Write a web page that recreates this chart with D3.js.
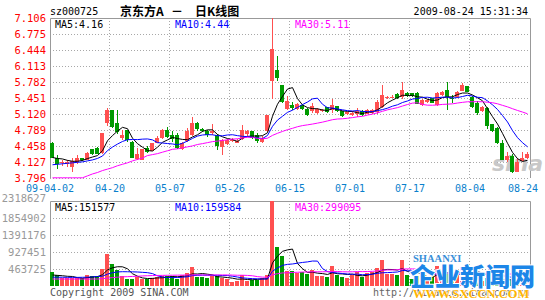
<!DOCTYPE html>
<html><head><meta charset="utf-8">
<script src="https://cdn.jsdelivr.net/npm/d3@7"></script>
<style>html,body{margin:0;padding:0;background:#fff;}svg{display:block;}</style>
</head><body><svg id="c" width="545" height="300"></svg>
<script>
// ---------- data ----------
const dates = [
"2009-04-02","2009-04-03","2009-04-06","2009-04-07","2009-04-08","2009-04-09","2009-04-10","2009-04-13","2009-04-14","2009-04-15","2009-04-16","2009-04-17",
"2009-04-20","2009-04-21","2009-04-22","2009-04-23","2009-04-24","2009-04-27","2009-04-28","2009-04-29","2009-04-30","2009-05-04","2009-05-05","2009-05-06",
"2009-05-07","2009-05-08","2009-05-11","2009-05-12","2009-05-13","2009-05-14","2009-05-15","2009-05-18","2009-05-19","2009-05-20","2009-05-21","2009-05-22",
"2009-05-26","2009-05-27","2009-06-01","2009-06-02","2009-06-03","2009-06-04","2009-06-05","2009-06-08","2009-06-09","2009-06-10","2009-06-11","2009-06-12",
"2009-06-15","2009-06-16","2009-06-17","2009-06-18","2009-06-19","2009-06-22","2009-06-23","2009-06-24","2009-06-25","2009-06-26","2009-06-29","2009-06-30",
"2009-07-01","2009-07-02","2009-07-03","2009-07-06","2009-07-07","2009-07-08","2009-07-09","2009-07-10","2009-07-13","2009-07-14","2009-07-15","2009-07-16",
"2009-07-17","2009-07-20","2009-07-21","2009-07-22","2009-07-23","2009-07-24","2009-07-27","2009-07-28","2009-07-29","2009-07-30","2009-07-31","2009-08-03",
"2009-08-04","2009-08-05","2009-08-06","2009-08-07","2009-08-10","2009-08-11","2009-08-12","2009-08-13","2009-08-14","2009-08-17","2009-08-18","2009-08-24"];

const open = [4.53,4.22,4.10,4.08,4.03,4.13,4.20,4.17,4.39,4.42,4.31,4.93,
5.20,4.93,4.62,4.78,4.55,4.19,4.17,4.42,4.36,4.53,4.62,4.79,
4.69,4.69,4.40,4.56,4.68,4.93,4.82,4.77,4.72,4.68,4.43,4.50,
4.56,4.53,4.60,4.70,4.76,4.69,4.55,4.76,5.80,6.02,5.71,5.23,
5.30,5.23,5.30,5.23,5.18,5.15,5.18,5.26,5.21,5.28,5.18,5.11,
5.09,5.11,5.18,5.13,5.14,5.16,5.27,5.47,5.46,5.53,5.47,5.56,
5.55,5.56,5.31,5.36,5.45,5.31,5.51,5.62,5.46,5.47,5.60,5.69,
5.48,5.34,5.18,5.25,4.91,4.84,4.51,4.17,4.25,3.93,4.15,4.22];
const high = [4.55,4.27,4.17,4.17,4.20,4.27,4.22,4.34,4.40,4.43,4.73,5.24,
5.21,5.20,4.79,4.79,4.56,4.42,4.40,4.46,4.53,4.67,4.82,4.86,
4.76,4.72,4.55,4.83,5.05,4.96,4.83,4.79,4.91,4.70,4.60,4.60,
4.62,4.60,4.89,4.78,4.77,4.72,4.66,5.10,7.106,6.33,5.72,5.49,
5.37,5.35,5.32,5.25,5.35,5.24,5.23,5.27,5.42,5.29,5.19,5.17,
5.18,5.24,5.20,5.22,5.23,5.41,5.71,5.50,5.51,5.56,5.79,5.57,
5.56,5.57,5.43,5.42,5.46,5.57,5.59,5.79,5.51,5.59,5.76,5.70,
5.49,5.38,5.29,5.27,4.92,4.85,4.58,4.34,4.30,4.20,4.33,4.34];
const low = [4.20,3.98,4.04,4.03,3.93,4.08,4.15,4.16,4.28,4.29,4.30,4.87,
4.84,4.71,4.58,4.55,4.21,4.17,4.16,4.32,4.35,4.51,4.60,4.62,
4.55,4.39,4.38,4.55,4.67,4.77,4.75,4.65,4.68,4.38,4.27,4.48,
4.54,4.52,4.58,4.66,4.61,4.51,4.53,4.75,5.42,5.80,5.34,5.21,
5.21,5.21,5.20,5.07,5.14,5.12,5.16,5.14,5.14,5.16,5.06,5.09,
5.07,5.06,5.08,5.12,5.12,5.13,5.24,5.44,5.45,5.42,5.44,5.48,
5.47,5.32,5.29,5.35,5.34,5.29,5.50,5.20,5.35,5.45,5.59,5.57,
5.25,5.10,5.16,4.82,4.75,4.50,4.16,4.13,3.90,3.91,4.14,4.18];
const close = [4.22,4.08,4.13,4.13,4.15,4.22,4.17,4.32,4.29,4.30,4.72,5.20,
4.86,4.75,4.69,4.58,4.22,4.29,4.39,4.34,4.53,4.62,4.79,4.64,
4.60,4.41,4.53,4.76,4.93,4.82,4.76,4.69,4.76,4.45,4.58,4.58,
4.58,4.57,4.79,4.76,4.63,4.56,4.62,5.09,6.47,5.87,5.37,5.38,
5.24,5.33,5.22,5.09,5.28,5.22,5.21,5.16,5.30,5.18,5.07,5.16,
5.15,5.18,5.09,5.20,5.20,5.37,5.51,5.48,5.48,5.45,5.62,5.49,
5.49,5.33,5.41,5.41,5.35,5.55,5.58,5.47,5.43,5.58,5.71,5.58,
5.27,5.14,5.27,4.88,4.77,4.51,4.17,4.25,3.93,4.12,4.22,4.29];
const volume = [372000,300000,209000,209000,209000,209000,209000,300000,282000,282000,464000,864000,
591000,427000,273000,191000,191000,255000,191000,191000,209000,255000,273000,273000,
273000,191000,300000,363000,527000,255000,255000,209000,273000,273000,209000,191000,
118000,136000,300000,136000,164000,164000,209000,300000,2318627,1073000,827000,409000,
409000,345000,372000,318000,436000,282000,282000,255000,555000,300000,255000,209000,
300000,372000,255000,345000,372000,500000,709000,337000,330000,300000,709000,300000,
200000,260000,230000,230000,270000,555000,360000,380000,250000,330000,527000,400000,
400000,300010,140000,215000,160000,180000,142955,165000,185000,150000,120000,137885];

// moving-average values before a full window exists
const ma5Head  = [4.22,4.20,4.19,4.16];
const ma10Head = [4.07,4.08,4.09,4.10,4.11,4.12,4.13,4.15,4.17];
const ma30Head = [3.80,3.80,3.80,3.80,3.80,3.80,3.80,3.84,3.88,3.91,3.95,3.98,4.01,4.05,4.08,4.11,4.15,4.18,4.21,4.26,4.28,4.30,4.33,4.36,4.39,4.40,4.42,4.44,4.46];
const vma5Head  = [300000,290000,280000,265000];
const vma10Head = [240000,240000,238000,236000,235000,235000,237000,240000,248000];
const vma30Head = [190000,190000,190000,190000,190000,190000,190000,190000,190000,190000,200000,215000,230000,240000,250000,255000,260000,265000,275000,280000,285000,288000,290000,292000,294000,296000,298000,300000,302000];

const priceTicks = ["7.106","6.775","6.444","6.113","5.782","5.451","5.120","4.789","4.458","4.127","3.796"];
const volTicks = ["2318627","1854902","1391176","927451","463725"];
const dateTicks = ["2009-04-02","2009-04-20","2009-05-07","2009-05-26","2009-06-15","2009-07-01","2009-07-17","2009-08-04","2009-08-24"];
const priceLegend = [["MA5:","4.16"],["MA10:","4.44"],["MA30:","5.11"]];
const volLegend = [["MA5:","151577"],["MA10:","159584"],["MA30:","299095"]];

// ---------- drawing ----------
const svg = d3.select("#c");
const MONO = "'DejaVu Sans Mono', monospace";
const UP = "#ff5050", DOWN = "#009a00", GRID = "#a8a8a8", FRAME = "#999";
const maColors = ["#000000","#0000ff","#ff00ff"];

const x = d3.scaleBand().domain(dates).range([50,530]).padding(0);
const bw = x.bandwidth();
const yP = d3.scaleLinear().domain([+priceTicks[priceTicks.length-1], +priceTicks[0]]).range([178,18]);
const yV = d3.scaleLinear().domain([0, +volTicks[0]]).range([286,201]);
const cr = v => Math.round(v) + 0.5;
const cx = d => Math.round(x(d)) + 2.5;

function movingAvg(arr, n, head){
  return arr.map((_, i) => i < n - 1 ? head[i] : d3.mean(arr.slice(i - n + 1, i + 1)));
}

svg.append("rect").attr("width",545).attr("height",300).attr("fill","#fff");

// grid & frames
const vGridX = dateTicks.slice(1, -1).map(d => cr(x(d)) - 1);
function panel(top, bottom, hValues, yScale){
  const g = svg.append("g");
  hValues.forEach(v => g.append("line").attr("x1",50).attr("x2",530)
    .attr("y1",cr(yScale(v))).attr("y2",cr(yScale(v)))
    .attr("stroke",GRID).attr("stroke-dasharray","1,2"));
  vGridX.forEach(xx => g.append("line").attr("x1",xx).attr("x2",xx)
    .attr("y1",top).attr("y2",bottom).attr("stroke",GRID).attr("stroke-dasharray","1,2"));
  g.append("path").attr("d",`M${50.5},${bottom}V${top+0.5}H${530.5}V${bottom}`)
    .attr("fill","none").attr("stroke",FRAME);
}
panel(18, 178, priceTicks.slice(1).map(Number), yP);
panel(201, 286, volTicks.slice(1).map(Number), yV);

// watermark "sina" behind candles
svg.append("text").attr("x",492).attr("y",171).text("sina")
  .attr("font-family","'DejaVu Sans', sans-serif").attr("font-size",22).attr("font-weight","bold")
  .attr("font-style","italic").attr("fill","#c8c8c8");

// candles
const candles = svg.append("g");
dates.forEach((d, i) => {
  const o = open[i], c = close[i], col = c >= o ? UP : DOWN;
  candles.append("line").attr("x1",cx(d)).attr("x2",cx(d))
    .attr("y1",Math.round(yP(high[i]))).attr("y2",Math.round(yP(low[i])))
    .attr("stroke",col);
  const yt = Math.round(yP(Math.max(o,c))), yb = Math.round(yP(Math.min(o,c)));
  candles.append("rect").attr("x",Math.round(x(d))).attr("width",bw-1)
    .attr("y",yt).attr("height",Math.max(1, yb - yt)).attr("fill",col);
});

// volume bars
const bars = svg.append("g");
dates.forEach((d, i) => {
  const col = close[i] >= open[i] ? UP : DOWN;
  const yt = Math.round(yV(volume[i]));
  bars.append("rect").attr("x",Math.round(x(d))).attr("width",bw-1)
    .attr("y",yt).attr("height",286 - yt).attr("fill",col);
});

// moving averages
const line = ys => d3.line().x((d,i) => cx(dates[i])).y(v => ys(v));
[[movingAvg(close,5,ma5Head)],[movingAvg(close,10,ma10Head)],[movingAvg(close,30,ma30Head)]]
  .forEach(([s], k) => svg.append("path").attr("d", line(yP)(s)).attr("fill","none")
    .attr("stroke",maColors[k]).attr("stroke-width",1));
[[movingAvg(volume,5,vma5Head)],[movingAvg(volume,10,vma10Head)],[movingAvg(volume,30,vma30Head)]]
  .forEach(([s], k) => svg.append("path").attr("d", line(yV)(s)).attr("fill","none")
    .attr("stroke",maColors[k]).attr("stroke-width",1));

// axis labels
priceTicks.forEach(t => svg.append("text").attr("x",46).attr("y",yP(+t)).attr("dy","0.36em")
  .attr("text-anchor","end").attr("font-family",MONO).attr("font-size",10.5).attr("fill","#ff0000").text(t));
volTicks.forEach((t, k) => svg.append("text").attr("x",46).attr("y",yV(+t) - (k === 0 ? 3 : 0)).attr("dy","0.36em")
  .attr("text-anchor","end").attr("font-family",MONO).attr("font-size",10.5).attr("fill","#999").text(t));
dateTicks.forEach((d, k) => {
  const last = k === dateTicks.length - 1;
  const label = k === 0 ? d.slice(2) : d.slice(5);
  svg.append("text").attr("x", last ? x(d) + bw + 8 : x(d)).attr("y",192)
    .attr("text-anchor", last ? "end" : "middle")
    .attr("font-family",MONO).attr("font-size",10).attr("fill","#0a7fcc").text(label);
});

// legends
function legend(items, yBase){
  items.forEach(([k, v], i) => svg.append("text").attr("x", 55 + 120*i).attr("y", yBase)
    .attr("font-family",MONO).attr("font-size",10).attr("fill",maColors[i]).text(k + v));
}
legend(priceLegend, 28);
legend(volLegend, 210.5);

// header
svg.append("text").attr("x",50).attr("y",15).attr("font-family",MONO).attr("font-size",10)
  .attr("fill","#000").text("sz000725");
const CJK = "'Noto Sans CJK SC', sans-serif";
[["京东方A",120],["－",171],["日K线图",195]].forEach(([t, xx]) =>
  svg.append("text").attr("x",xx).attr("y",15.5).attr("font-family",CJK).attr("font-size",12)
    .attr("font-weight","bold").attr("fill","#000").text(t));
svg.append("text").attr("x",528).attr("y",15).attr("text-anchor","end").attr("font-family",MONO)
  .attr("font-size",10).attr("fill","#000").text("2009-08-24 15:31:34");

// footer
svg.append("text").attr("x",50).attr("y",296).attr("font-family",MONO).attr("font-size",10)
  .attr("fill","#555").text("Copyright 2009 SINA.COM");
svg.append("text").attr("x",373).attr("y",296).attr("font-family",MONO).attr("font-size",10)
  .attr("fill","#666").text("http://finance.sina.com.cn");

// site watermark
svg.append("text").attr("x",413).attr("y",262).text("SHAANXI")
  .attr("font-family","'Liberation Serif', serif").attr("font-weight","bold").attr("font-size",10.5)
  .attr("fill","#3a8fd8").attr("stroke","#fff").attr("stroke-width",1.5).attr("paint-order","stroke");
svg.append("text").attr("x",410).attr("y",286).text("企业新闻网")
  .attr("font-family",CJK).attr("font-weight",900).attr("font-size",25)
  .attr("fill","#1c86e8").attr("stroke","#fff").attr("stroke-width",2).attr("paint-order","stroke");
svg.append("text").attr("x",413).attr("y",298).text("WWW.SXCCN.COM")
  .attr("font-family","'Liberation Serif', serif").attr("font-weight","bold").attr("font-size",12.5)
  .attr("fill","#ffb400").attr("stroke","#fff").attr("stroke-width",1).attr("paint-order","stroke");
</script></body></html>
